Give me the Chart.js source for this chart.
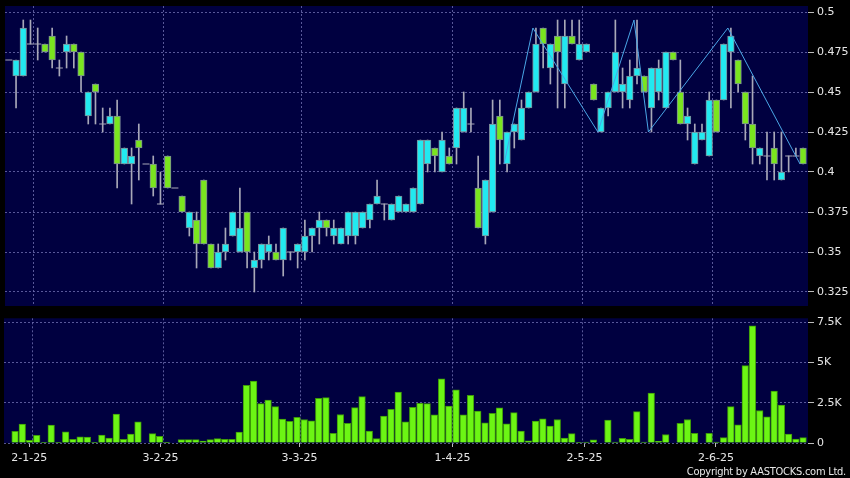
<!DOCTYPE html>
<html>
<head>
<meta charset="utf-8">
<script src="https://cdn.jsdelivr.net/npm/chart.js@4.4.1/dist/chart.umd.min.js"></script>
<style>
  html, body { margin: 0; padding: 0; background: #000; }
  #wrap { position: relative; width: 850px; height: 478px; overflow: hidden; }
  #price { position: absolute; left: 0; top: 0; }
  #vol { position: absolute; left: 0; top: 312px; }
  #copy { position: absolute; right: 4px; top: 465px; line-height: 13px; color: #e8e8e8; font: 11px "DejaVu Sans Condensed", "DejaVu Sans", sans-serif; letter-spacing: -0.25px; white-space: nowrap; }
</style>
</head>
<body>
<div id="wrap">
  <canvas id="price" width="850" height="312" style="width:850px;height:312px"></canvas>
  <canvas id="vol" width="850" height="166" style="width:850px;height:166px"></canvas>
  <div id="copy">Copyright by AASTOCKS.com Ltd.</div>
</div>
<script>
// daily candles, index 0 = first bar on the left
const openP = [0.47, 0.46, 0.46, 0.48, 0.48, 0.48, 0.485, 0.465, 0.475, 0.48,
  0.475, 0.435, 0.455, 0.43, 0.43, 0.435, 0.405, 0.405, 0.42, 0.405,
  0.405, 0.38, 0.41, 0.39, 0.385, 0.365, 0.37, 0.395, 0.355, 0.34,
  0.35, 0.36, 0.35, 0.375, 0.34, 0.345, 0.35, 0.35, 0.345, 0.35,
  0.35, 0.35, 0.36, 0.365, 0.37, 0.36, 0.355, 0.36, 0.36, 0.365,
  0.37, 0.38, 0.38, 0.37, 0.375, 0.375, 0.375, 0.38, 0.405, 0.415,
  0.40, 0.41, 0.415, 0.425, 0.43, 0.39, 0.36, 0.375, 0.435, 0.405,
  0.425, 0.42, 0.44, 0.45, 0.49, 0.465, 0.485, 0.455, 0.485, 0.47,
  0.475, 0.455, 0.425, 0.44, 0.45, 0.45, 0.445, 0.46, 0.46, 0.44,
  0.45, 0.44, 0.475, 0.45, 0.43, 0.405, 0.42, 0.41, 0.445, 0.445,
  0.475, 0.47, 0.45, 0.43, 0.41, 0.41, 0.415, 0.395, 0.41, 0.41, 0.415];
const highP = [0.47, 0.47, 0.495, 0.495, 0.49, 0.48, 0.49, 0.47, 0.485, 0.48,
  0.475, 0.45, 0.455, 0.44, 0.44, 0.445, 0.415, 0.415, 0.43, 0.405,
  0.41, 0.40, 0.41, 0.39, 0.385, 0.375, 0.375, 0.395, 0.355, 0.355,
  0.365, 0.375, 0.39, 0.375, 0.35, 0.355, 0.36, 0.355, 0.365, 0.35,
  0.355, 0.37, 0.365, 0.375, 0.37, 0.37, 0.365, 0.375, 0.375, 0.375,
  0.38, 0.395, 0.38, 0.38, 0.385, 0.38, 0.39, 0.42, 0.42, 0.415,
  0.425, 0.415, 0.44, 0.45, 0.44, 0.41, 0.395, 0.445, 0.445, 0.425,
  0.43, 0.445, 0.45, 0.49, 0.49, 0.48, 0.495, 0.495, 0.495, 0.495,
  0.48, 0.455, 0.44, 0.45, 0.495, 0.465, 0.47, 0.495, 0.46, 0.465,
  0.47, 0.475, 0.475, 0.47, 0.44, 0.43, 0.43, 0.45, 0.445, 0.48,
  0.49, 0.47, 0.45, 0.46, 0.415, 0.425, 0.425, 0.425, 0.41, 0.415, 0.415];
const lowP = [0.47, 0.44, 0.46, 0.48, 0.47, 0.475, 0.465, 0.46, 0.465, 0.465,
  0.45, 0.43, 0.43, 0.425, 0.43, 0.39, 0.405, 0.38, 0.395, 0.405,
  0.385, 0.38, 0.39, 0.39, 0.375, 0.36, 0.34, 0.355, 0.34, 0.34,
  0.345, 0.36, 0.35, 0.34, 0.325, 0.34, 0.345, 0.345, 0.335, 0.345,
  0.34, 0.345, 0.35, 0.355, 0.36, 0.355, 0.355, 0.355, 0.355, 0.365,
  0.365, 0.38, 0.37, 0.37, 0.375, 0.375, 0.375, 0.38, 0.40, 0.40,
  0.40, 0.405, 0.405, 0.425, 0.425, 0.365, 0.355, 0.375, 0.405, 0.40,
  0.415, 0.42, 0.44, 0.45, 0.465, 0.455, 0.44, 0.44, 0.48, 0.47,
  0.475, 0.445, 0.425, 0.435, 0.45, 0.44, 0.44, 0.455, 0.45, 0.425,
  0.445, 0.44, 0.47, 0.43, 0.42, 0.405, 0.42, 0.41, 0.425, 0.445,
  0.44, 0.45, 0.42, 0.405, 0.405, 0.395, 0.395, 0.395, 0.40, 0.41, 0.405];
const closeP = [0.47, 0.47, 0.49, 0.48, 0.48, 0.475, 0.47, 0.465, 0.48, 0.475,
  0.46, 0.45, 0.45, 0.43, 0.435, 0.405, 0.415, 0.41, 0.415, 0.405,
  0.39, 0.38, 0.39, 0.39, 0.375, 0.375, 0.355, 0.355, 0.34, 0.35,
  0.355, 0.375, 0.365, 0.35, 0.345, 0.355, 0.355, 0.345, 0.365, 0.35,
  0.355, 0.36, 0.365, 0.37, 0.365, 0.365, 0.365, 0.375, 0.375, 0.375,
  0.38, 0.385, 0.38, 0.38, 0.385, 0.38, 0.39, 0.42, 0.42, 0.41,
  0.42, 0.405, 0.44, 0.44, 0.43, 0.365, 0.395, 0.43, 0.42, 0.425,
  0.43, 0.44, 0.45, 0.48, 0.48, 0.48, 0.475, 0.485, 0.48, 0.48,
  0.48, 0.445, 0.44, 0.45, 0.475, 0.455, 0.46, 0.465, 0.45, 0.465,
  0.465, 0.475, 0.47, 0.43, 0.435, 0.425, 0.425, 0.445, 0.425, 0.48,
  0.485, 0.455, 0.43, 0.415, 0.415, 0.41, 0.405, 0.40, 0.41, 0.41, 0.405];
const volume = [0, 720, 1170, 160, 470, 40, 1110, 40, 700, 230,
  390, 370, 20, 490, 310, 1790, 230, 560, 1320, 0,
  580, 410, 20, 0, 210, 210, 210, 120, 210, 270,
  230, 230, 680, 3580, 3850, 2450, 2670, 2260, 1480, 1340,
  1600, 1460, 1380, 2780, 2820, 600, 1770, 1230, 2200, 2880,
  740, 270, 1670, 2100, 3170, 1320, 2220, 2470, 2450, 1750,
  3990, 2300, 3310, 1750, 2960, 1980, 1260, 1850, 2180, 1190,
  1890, 740, 140, 1360, 1500, 1050, 1460, 310, 580, 20,
  60, 190, 0, 1420, 60, 290, 230, 1950, 60, 3110,
  100, 530, 0, 1230, 1460, 600, 0, 600, 60, 330,
  2260, 1130, 4810, 7280, 2020, 1630, 3230, 2350, 560, 250, 330];

// zigzag overlay turning points (bar index, price)
const zigIdx = [69, 73, 82, 87, 89, 100, 110];
const zigVal = [0.405, 0.49, 0.425, 0.495, 0.425, 0.49, 0.405];

const dateLabels = ['2-1-25', '3-2-25', '3-3-25', '1-4-25', '2-5-25', '2-6-25'];
const dateTickAt = [2.97, 21.12, 40.35, 61.5, 79.76, 97.95];
const gridAt = [3.35, 21.47, 40.48, 61.48, 79.46, 97.44];
const priceTicks = [0.325, 0.35, 0.375, 0.4, 0.425, 0.45, 0.475, 0.5];
const priceTickLabels = ['0.325', '0.35', '0.375', '0.4', '0.425', '0.45', '0.475', '0.5'];
const volTicks = [0, 2500, 5000, 7500];
const volTickLabels = ['0', '2.5K', '5K', '7.5K'];

const UP = '#22e9f0', DOWN = '#7ae51f', EDGE = '#7b8a96', WICK = '#a8a8b8';
const VOL = '#6cf514', VOL_EDGE = '#3d9a08', ZIG = '#4aa6e6';
const GRID = 'rgba(110,110,175,0.8)';
const TEXT = '#e6e6e6';
const FONT = { family: 'DejaVu Sans', size: 11 };
const xMin = -0.53, xMax = 110.68;

const panelBg = {
  id: 'panelBg',
  beforeDraw(chart) {
    const a = chart.chartArea, g = chart.ctx;
    g.save();
    g.fillStyle = '#000040';
    g.fillRect(a.left, a.top, a.right - a.left, a.bottom - a.top);
    g.restore();
  }
};

const idx = openP.map((_, i) => i);
const bodies = idx.filter(i => openP[i] !== closeP[i]).map(i => ({
  x: i, y: [Math.min(openP[i], closeP[i]), Math.max(openP[i], closeP[i])], up: closeP[i] > openP[i]
}));
const wicks = idx.filter(i => highP[i] > lowP[i]).map(i => ({ x: i, y: [lowP[i], highP[i]] }));
const dojis = idx.filter(i => openP[i] === closeP[i]).map(i => ({ x: i, y: openP[i] }));
const zigzag = zigIdx.map((i, k) => ({ x: i - 0.42, y: zigVal[k] }));

function noPad(s) {
  s.paddingTop = 0; s.paddingBottom = 0; s.paddingLeft = 0; s.paddingRight = 0;
}

function gridX(ticksAt) {
  return {
    type: 'linear', min: xMin, max: xMax, offset: false,
    afterFit: s => { s.height = 0; noPad(s); },
    afterBuildTicks: s => { s.ticks = ticksAt.map(v => ({ value: v })); },
    ticks: { display: false },
    grid: { color: GRID, drawTicks: false, offset: false },
    border: { display: false, dash: [2, 2] }
  };
}

function rightAxis(ticks, labels, min, max) {
  return {
    position: 'right', min: min, max: max,
    afterFit: s => { s.width = 42; noPad(s); },
    afterBuildTicks: s => { s.ticks = ticks.map(v => ({ value: v })); },
    ticks: { color: TEXT, font: FONT, padding: 3, callback: (v, i) => labels[i] },
    grid: { color: GRID, tickColor: '#bbbbbb', tickLength: 6 },
    border: { display: false, dash: [2, 2] }
  };
}

const common = {
  responsive: false,
  animation: false,
  events: [],
  plugins: { legend: { display: false }, tooltip: { enabled: false } }
};

new Chart(document.getElementById('price'), {
  type: 'bar',
  data: {
    datasets: [
      { type: 'line', data: zigzag, borderColor: ZIG, borderWidth: 1, pointRadius: 0, order: 0 },
      {
        data: bodies, grouped: false, barThickness: 6.6, order: 1,
        backgroundColor: c => (c.raw && c.raw.up ? UP : DOWN),
        borderColor: EDGE, borderWidth: 1, borderSkipped: false
      },
      {
        type: 'line', data: dojis, showLine: false, order: 2,
        pointStyle: 'line', pointRadius: 3.5, borderColor: WICK, borderWidth: 1
      },
      { data: wicks, grouped: false, barThickness: 1, backgroundColor: WICK, order: 3 }
    ]
  },
  options: Object.assign({}, common, {
    layout: { padding: { left: 4, top: 6, right: 0, bottom: 6 } },
    scales: {
      x: gridX(gridAt),
      y: rightAxis(priceTicks, priceTickLabels, 0.31625, 0.50375)
    }
  }),
  plugins: [panelBg]
});

new Chart(document.getElementById('vol'), {
  type: 'bar',
  data: {
    datasets: [{
      data: volume.map((v, i) => ({ x: i, y: v })),
      barThickness: 6.6,
      backgroundColor: VOL, borderColor: VOL_EDGE, borderWidth: 1
    }]
  },
  options: Object.assign({}, common, {
    layout: { padding: { left: 4, top: 6.3, right: 0, bottom: 0 } },
    scales: {
      x: {
        type: 'linear', min: xMin, max: xMax, offset: false,
        afterFit: s => { s.height = 35; noPad(s); },
        afterBuildTicks: s => { s.ticks = dateTickAt.map(v => ({ value: v })); },
        ticks: { color: TEXT, font: FONT, padding: 5, maxRotation: 0, autoSkip: false, callback: (v, i) => dateLabels[i] },
        grid: { drawOnChartArea: false, tickColor: '#bbbbbb', tickLength: 4, offset: false },
        border: { display: false }
      },
      xg: gridX(gridAt),
      y: rightAxis(volTicks, volTickLabels, 0, 7750)
    }
  }),
  plugins: [panelBg]
});
</script>
</body>
</html>
